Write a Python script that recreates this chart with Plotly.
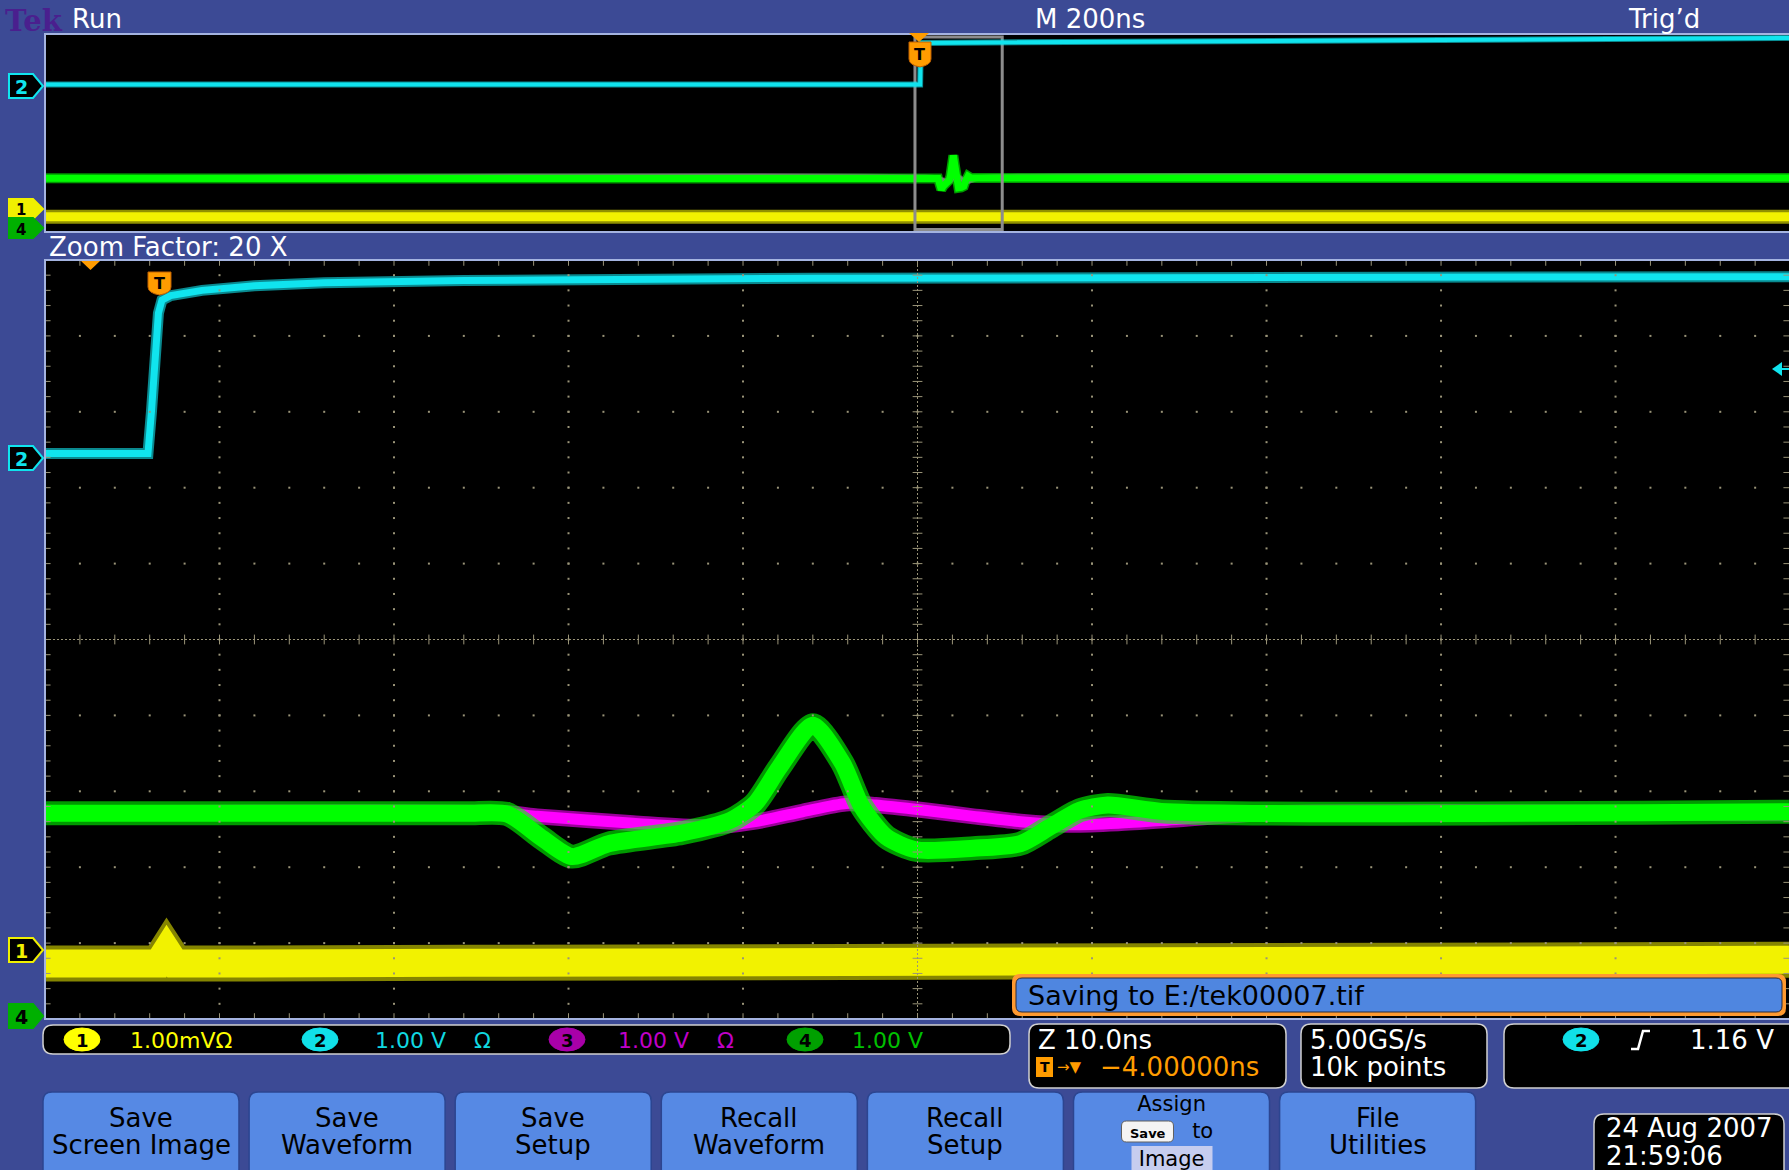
import plotly.graph_objects as go

W, H = 1789, 1170

# ---------------- DATA ----------------
# Zoom window (10 ns/div). time in ns, amplitude in screen divisions
zoom_range = [-4.0, 95.94]
zoom_window = [-4.0, 96.0]

cyan_t = [-4.0, 1.9, 2.1, 2.3, 2.5, 2.7, 3.2, 5.0, 8.0, 12.0, 20.0, 40.0, 70.0, 95.94]
cyan_v = [2.45, 2.45, 3.0, 3.7, 4.3, 4.47, 4.53, 4.60, 4.66, 4.70, 4.73, 4.76, 4.77, 4.78]

green_t = [-4.0, 20.0, 22.5, 24.5, 26.2, 28.3, 32.5, 35.3, 36.7, 38.1, 40.0, 41.7,
           42.8, 44.2, 45.9, 49.2, 51.9, 53.6, 55.3, 56.9, 60.3, 95.94]
green_v = [-2.29, -2.29, -2.30, -2.62, -2.86, -2.69, -2.55, -2.38, -2.16, -1.68, -1.13, -1.63,
           -2.20, -2.60, -2.77, -2.75, -2.69, -2.47, -2.25, -2.18, -2.27, -2.27]

magenta_t = [-4.0, 22.5, 24.2, 29.7, 33.9, 36.7, 39.4, 41.9, 43.6, 46.4, 49.2, 51.9,
             54.7, 57.5, 60.3, 66.0, 95.94]
magenta_v = [-2.29, -2.29, -2.33, -2.42, -2.47, -2.40, -2.27, -2.16, -2.18, -2.25, -2.33, -2.40,
             -2.44, -2.42, -2.38, -2.29, -2.29]

yellow_t = [-4.0, 2.5, 2.97, 3.45, 20.0, 50.0, 60.0, 95.94]
yellow_v = [-4.27, -4.27, -4.10, -4.27, -4.26, -4.25, -4.22, -4.22]

# Overview (200 ns/div)
ov_range = [-1001.1, 997.75]
ov_cyan_t = [-1001.1, 1.9, 2.7, 997.75]
ov_cyan_v = [2.45, 2.45, 4.55, 4.80]
ov_yellow_t = [-1001.1, 997.75]
ov_yellow_v = [-4.23, -4.23]

# Text content
top_left, top_mid, top_right = "Run", "M 200ns", "Trig’d"
zoom_label = "Zoom Factor: 20 X"
ch_scales = ["1.00mVΩ", "1.00 V    Ω", "1.00 V    Ω", "1.00 V"]
buttons = ["Save<br>Screen Image", "Save<br>Waveform", "Save<br>Setup", "Recall<br>Waveform",
           "Recall<br>Setup", "Assign<br>{chip}    to<br>Image", "File<br>Utilities"]
chip_label = "Save"
saving_msg = "Saving to E:/tek00007.tif"
zoom_scale, zoom_pos = "Z 10.0ns", "−4.00000ns"
acq_rate, acq_len = "5.00GS/s", "10k points"
trig_level = "1.16 V"
date_s, time_s = "24 Aug 2007", "21:59:06"

# ---------------- STYLE / HELPERS ----------------
BLUE = "#3c4a95"
BTN = "#5689e4"
FONT = "DejaVu Sans, Verdana, sans-serif"
CYAN = "#10e4ee"
GRID = "#9a9478"
FS = 26

shapes, ann = [], []


def X(px):
    return px / W


def Y(py):
    return 1 - py / H


def P(x, y):
    return f"{X(x):.5f},{Y(y):.5f}"


def path_shape(d, fill=None, line=None, lw=1):
    shapes.append(dict(type="path", xref="paper", yref="paper", path=d,
                       fillcolor=fill if fill else "rgba(0,0,0,0)",
                       line=dict(color=line if line else "rgba(0,0,0,0)", width=lw if line else 0),
                       layer="above"))


def rrect(x0, y0, x1, y1, r, fill, line=None, lw=1):
    d = (f"M {P(x0 + r, y0)} L {P(x1 - r, y0)} Q {P(x1, y0)} {P(x1, y0 + r)} "
         f"L {P(x1, y1 - r)} Q {P(x1, y1)} {P(x1 - r, y1)} L {P(x0 + r, y1)} "
         f"Q {P(x0, y1)} {P(x0, y1 - r)} L {P(x0, y0 + r)} Q {P(x0, y0)} {P(x0 + r, y0)} Z")
    path_shape(d, fill, line, lw)


def rect(x0, y0, x1, y1, fill=None, line=None, lw=1):
    shapes.append(dict(type="rect", xref="paper", yref="paper", x0=X(x0), x1=X(x1), y0=Y(y1), y1=Y(y0),
                       fillcolor=fill if fill else "rgba(0,0,0,0)",
                       line=dict(color=line if line else "rgba(0,0,0,0)", width=lw if line else 0),
                       layer="above"))


def ellipse(x0, y0, x1, y1, fill, line=None, lw=1):
    shapes.append(dict(type="circle", xref="paper", yref="paper", x0=X(x0), x1=X(x1), y0=Y(y1), y1=Y(y0),
                       fillcolor=fill, line=dict(color=line if line else fill, width=lw), layer="above"))


def text(x, y, s, size=FS, color="white", anchor="left", bold=False, family=FONT):
    if bold:
        s = f"<b>{s}</b>"
    ann.append(dict(xref="paper", yref="paper", x=X(x), y=Y(y), text=s, showarrow=False,
                    xanchor=anchor, yanchor="middle", align="center",
                    font=dict(size=size, color=color, family=family)))


def tag(y, digit, fill, border, dcolor, h=12, fs=19):
    x0, x1, tip = 9, 33, 43
    d = f"M {P(x0, y - h)} L {P(x1, y - h)} L {P(tip, y)} L {P(x1, y + h)} L {P(x0, y + h)} Z"
    path_shape(d, fill, border, 2)
    if digit:
        text(21, y + 1, digit, fs, dcolor, "center", bold=True, family="DejaVu Sans, sans-serif")


fig = go.Figure()


def band(xs, ys, rgb, halo, core, xa="x", ya="y", shape="spline", alpha=0.6):
    fig.add_trace(go.Scatter(x=xs, y=ys, mode="lines", xaxis=xa, yaxis=ya, hoverinfo="skip",
                             line=dict(color=f"rgba({rgb},{alpha})", width=halo, shape=shape, smoothing=0.7)))
    fig.add_trace(go.Scatter(x=xs, y=ys, mode="lines", xaxis=xa, yaxis=ya, hoverinfo="skip",
                             line=dict(color=f"rgb({rgb})", width=core, shape=shape, smoothing=0.7)))


# ---------------- ZOOM PANEL TRACES ----------------
band(yellow_t, yellow_v, "242,242,0", 36, 28, shape="linear", alpha=0.55)
band(magenta_t, magenta_v, "255,0,255", 16, 11)
band(green_t, green_v, "0,255,0", 24, 17)
band(cyan_t, cyan_v, "16,228,238", 11, 7, shape="linear")

# graticule (drawn over the traces, like the scope)
gx, gy = [], []
for k in range(1, 10):
    if k == 5:
        continue
    t = zoom_window[0] + 10 * k
    for j in range(1, 50):
        gx.append(t); gy.append(-5 + 0.2 * j)
for k in range(-4, 5):
    if k == 0:
        continue
    for j in range(1, 50):
        gx.append(zoom_window[0] + 2 * j); gy.append(k)
fig.add_trace(go.Scatter(x=gx, y=gy, mode="markers", hoverinfo="skip",
                         marker=dict(symbol="square", size=2, color=GRID, line=dict(width=0))))
tc = zoom_window[0] + 50
fig.add_trace(go.Scatter(x=[tc, tc], y=[-5, 5], mode="lines", hoverinfo="skip",
                         line=dict(color=GRID, width=1, dash="2px,2px")))
fig.add_trace(go.Scatter(x=[zoom_window[0], zoom_window[1]], y=[0, 0], mode="lines", hoverinfo="skip",
                         line=dict(color=GRID, width=1, dash="2px,2px")))
fig.add_trace(go.Scatter(x=[tc] * 49, y=[-5 + 0.2 * j for j in range(1, 50)], mode="markers",
                         hoverinfo="skip", marker=dict(symbol="line-ew", size=7, line=dict(color=GRID, width=1))))
fig.add_trace(go.Scatter(x=[zoom_window[0] + 2 * j for j in range(1, 50)], y=[0] * 49, mode="markers",
                         hoverinfo="skip", marker=dict(symbol="line-ns", size=7, line=dict(color=GRID, width=1))))
ex = [zoom_window[0] + 2 * j for j in range(1, 50)]
fig.add_trace(go.Scatter(x=ex + ex, y=[4.97] * 49 + [-4.97] * 49, mode="markers", hoverinfo="skip",
                         marker=dict(symbol="line-ns", size=5, line=dict(color=GRID, width=1))))
ey = [-5 + 0.2 * j for j in range(1, 50)]
fig.add_trace(go.Scatter(x=[zoom_window[0] + 0.12] * 49 + [zoom_range[1] - 0.12] * 49, y=ey + ey,
                         mode="markers", hoverinfo="skip",
                         marker=dict(symbol="line-ew", size=5, line=dict(color=GRID, width=1))))

# ---------------- OVERVIEW TRACES ----------------
ov_green_t = [ov_range[0]] + green_t[1:-1] + [ov_range[1]]
ov_green_v = [green_v[0]] + green_v[1:-1] + [green_v[-1]]
ov_mag_t = [ov_range[0]] + magenta_t[1:-1] + [ov_range[1]]
ov_mag_v = [magenta_v[0]] + magenta_v[1:-1] + [magenta_v[-1]]
band(ov_yellow_t, ov_yellow_v, "242,242,0", 14, 9, "x2", "y2", "linear")
band(ov_mag_t, ov_mag_v, "255,0,255", 6, 4, "x2", "y2")
band(ov_green_t, ov_green_v, "0,255,0", 10, 7, "x2", "y2", "linear")
fig.add_trace(go.Scatter(x=[zoom_window[0], zoom_window[1], zoom_window[1], zoom_window[0], zoom_window[0]],
                         y=[4.85, 4.85, -4.87, -4.87, 4.85], mode="lines", xaxis="x2", yaxis="y2",
                         hoverinfo="skip", line=dict(color="#8c8c8c", width=3)))
band(ov_cyan_t, ov_cyan_v, "16,228,238", 6, 4, "x2", "y2", "linear")

# ---------------- FRAMES ----------------
rect(45, 34, 1800, 232, None, "#a4b3e0", 2)
rect(45, 260, 1800, 1019, None, "#a4b3e0", 2)

# Top bar
text(3, 21, "Tek", 29, "#4a1f8e", bold=True, family="DejaVu Serif, Liberation Serif, serif")
text(70, 19, top_left, FS)
text(1090, 19, top_mid, FS, anchor="center")
text(1664, 19, top_right, FS, anchor="center")
text(47, 247, zoom_label, FS)

# Trigger markers
path_shape(f"M {P(909, 33)} L {P(929, 33)} L {P(919, 42)} Z", "#ff9c00")
path_shape(f"M {P(909, 42)} L {P(931, 42)} L {P(931, 59)} Q {P(931, 65)} {P(920, 67)} "
           f"Q {P(909, 65)} {P(909, 59)} Z", "#ff9c00", "#c06000", 1)
text(920, 54, "T", 16, "black", "center", bold=True, family="DejaVu Sans, sans-serif")
path_shape(f"M {P(81, 261)} L {P(100, 261)} L {P(90.5, 270)} Z", "#ff9c00")
path_shape(f"M {P(148, 272)} L {P(171, 272)} L {P(171, 287)} Q {P(171, 293)} {P(159.5, 295)} "
           f"Q {P(148, 293)} {P(148, 287)} Z", "#ff9c00", "#c06000", 1)
text(159.5, 283, "T", 16, "black", "center", bold=True, family="DejaVu Sans, sans-serif")

# Trigger level arrow (right edge)
path_shape(f"M {P(1772, 369)} L {P(1782, 362)} L {P(1782, 376)} Z", CYAN)
path_shape(f"M {P(1780, 369)} L {P(1789, 369)}", None, CYAN, 2)

# Channel tags
tag(86, "2", "black", CYAN, CYAN)
tag(209, None, "#f0f000", "#f0f000", "black", h=10)
tag(228, None, "#00b000", "#00b000", "black", h=10)
text(21, 219.5, "<b>1</b><br><b>4</b>", 15, "black", "center", family="DejaVu Sans, sans-serif")
tag(458, "2", "black", CYAN, CYAN)
tag(950, "1", "black", "#f0f000", "#f0f000")
tag(1016, "4", "#00b000", "#00b000", "black")

# Saving message
rrect(1012, 974, 1786, 1016, 8, "#ff9a30")
rrect(1016, 978, 1782, 1012, 6, "#4f86e0", "#2a2a3a", 1)
text(1026, 995, saving_msg, 27, "black")

# Channel bar
rrect(43, 1025, 1010, 1054, 10, "black", "#d0d0d0", 1.5)
badges = [("1", 82, "#ffff00", "black", "#ffff00", 128),
          ("2", 320, "#10e0e8", "black", "#10d8e0", 373),
          ("3", 567, "#a800a8", "black", "#c000c8", 616),
          ("4", 805, "#00a000", "black", "#00c000", 850)]
for (d, cx, fc, dc, tcol, tx), s in zip(badges, ch_scales):
    ellipse(cx - 18, 1028, cx + 18, 1051, fc)
    text(cx, 1040, d, 18, dc, "center", bold=True, family="DejaVu Sans, sans-serif")
    text(tx, 1040, s.replace(" ", "&nbsp;"), 22, tcol)

# Z box
rrect(1029, 1024, 1286, 1088, 10, "black", "#d0d0d0", 1.5)
text(1036, 1040, zoom_scale, FS)
rect(1036, 1057, 1053, 1077, "#ff9c00")
text(1044.5, 1067, "T", 14, "black", "center", bold=True, family="DejaVu Sans, sans-serif")
text(1055, 1067, "→▼", 15, "#ff9c00")
text(1098, 1067, zoom_pos, FS, "#ff9c00")

# Acquisition box
rrect(1301, 1024, 1487, 1088, 10, "black", "#d0d0d0", 1.5)
text(1308, 1040, acq_rate, FS)
text(1308, 1067, acq_len, FS)

# Trigger box
rrect(1504, 1024, 1800, 1088, 10, "black", "#d0d0d0", 1.5)
ellipse(1563, 1028, 1599, 1051, "#10e0e8")
text(1581, 1040, "2", 18, "black", "center", bold=True, family="DejaVu Sans, sans-serif")
path_shape(f"M {P(1631, 1049)} L {P(1638, 1049)} L {P(1643, 1031)} L {P(1650, 1031)}", None, "white", 2.5)
text(1776, 1040, trig_level, FS, anchor="right")

# Buttons
for i, lab in enumerate(buttons):
    x0 = 43 + i * 206.1
    x1 = x0 + 196
    rrect(x0, 1092, x1, 1190, 9, BTN, "#2c4590", 1.5)
    cx = (x0 + x1) / 2
    if "{chip}" in lab:
        rrect(cx - 50, 1121, cx + 2, 1142, 5, "#f4f4f4", "#606060", 1)
        rect(cx - 40, 1146, cx + 41, 1170, "#c6cdef")
        s = lab.replace(" ", "&nbsp;").replace(
            "{chip}", f"<span style='font-size:13px'><b>{chip_label}</b></span>")
        text(cx, 1131, s, 21, "black", "center")
    else:
        l1, l2 = lab.split("<br>")
        text(cx, 1118, l1, FS, "black", "center")
        text(cx, 1145, l2, FS, "black", "center")

# Date box
rrect(1594, 1114, 1784, 1190, 10, "black", "#d0d0d0", 1.5)
text(1604, 1128, date_s, FS)
text(1604, 1156, time_s, FS)

fig.update_layout(
    width=W, height=H, margin=dict(l=0, r=0, t=0, b=0, pad=0),
    paper_bgcolor=BLUE, plot_bgcolor="black", showlegend=False, hovermode=False,
    xaxis=dict(domain=[X(45), 1], range=zoom_range, visible=False, fixedrange=True),
    yaxis=dict(domain=[Y(1019), Y(260)], range=[-5, 5], visible=False, fixedrange=True),
    xaxis2=dict(domain=[X(45), 1], range=ov_range, visible=False, anchor="y2", fixedrange=True),
    yaxis2=dict(domain=[Y(232), Y(34)], range=[-5, 5], visible=False, anchor="x2", fixedrange=True),
    shapes=shapes, annotations=ann,
)

fig.write_html("out.html", config={"displayModeBar": False},
               post_script="document.body.style.margin='0';document.body.style.overflow='hidden';")
